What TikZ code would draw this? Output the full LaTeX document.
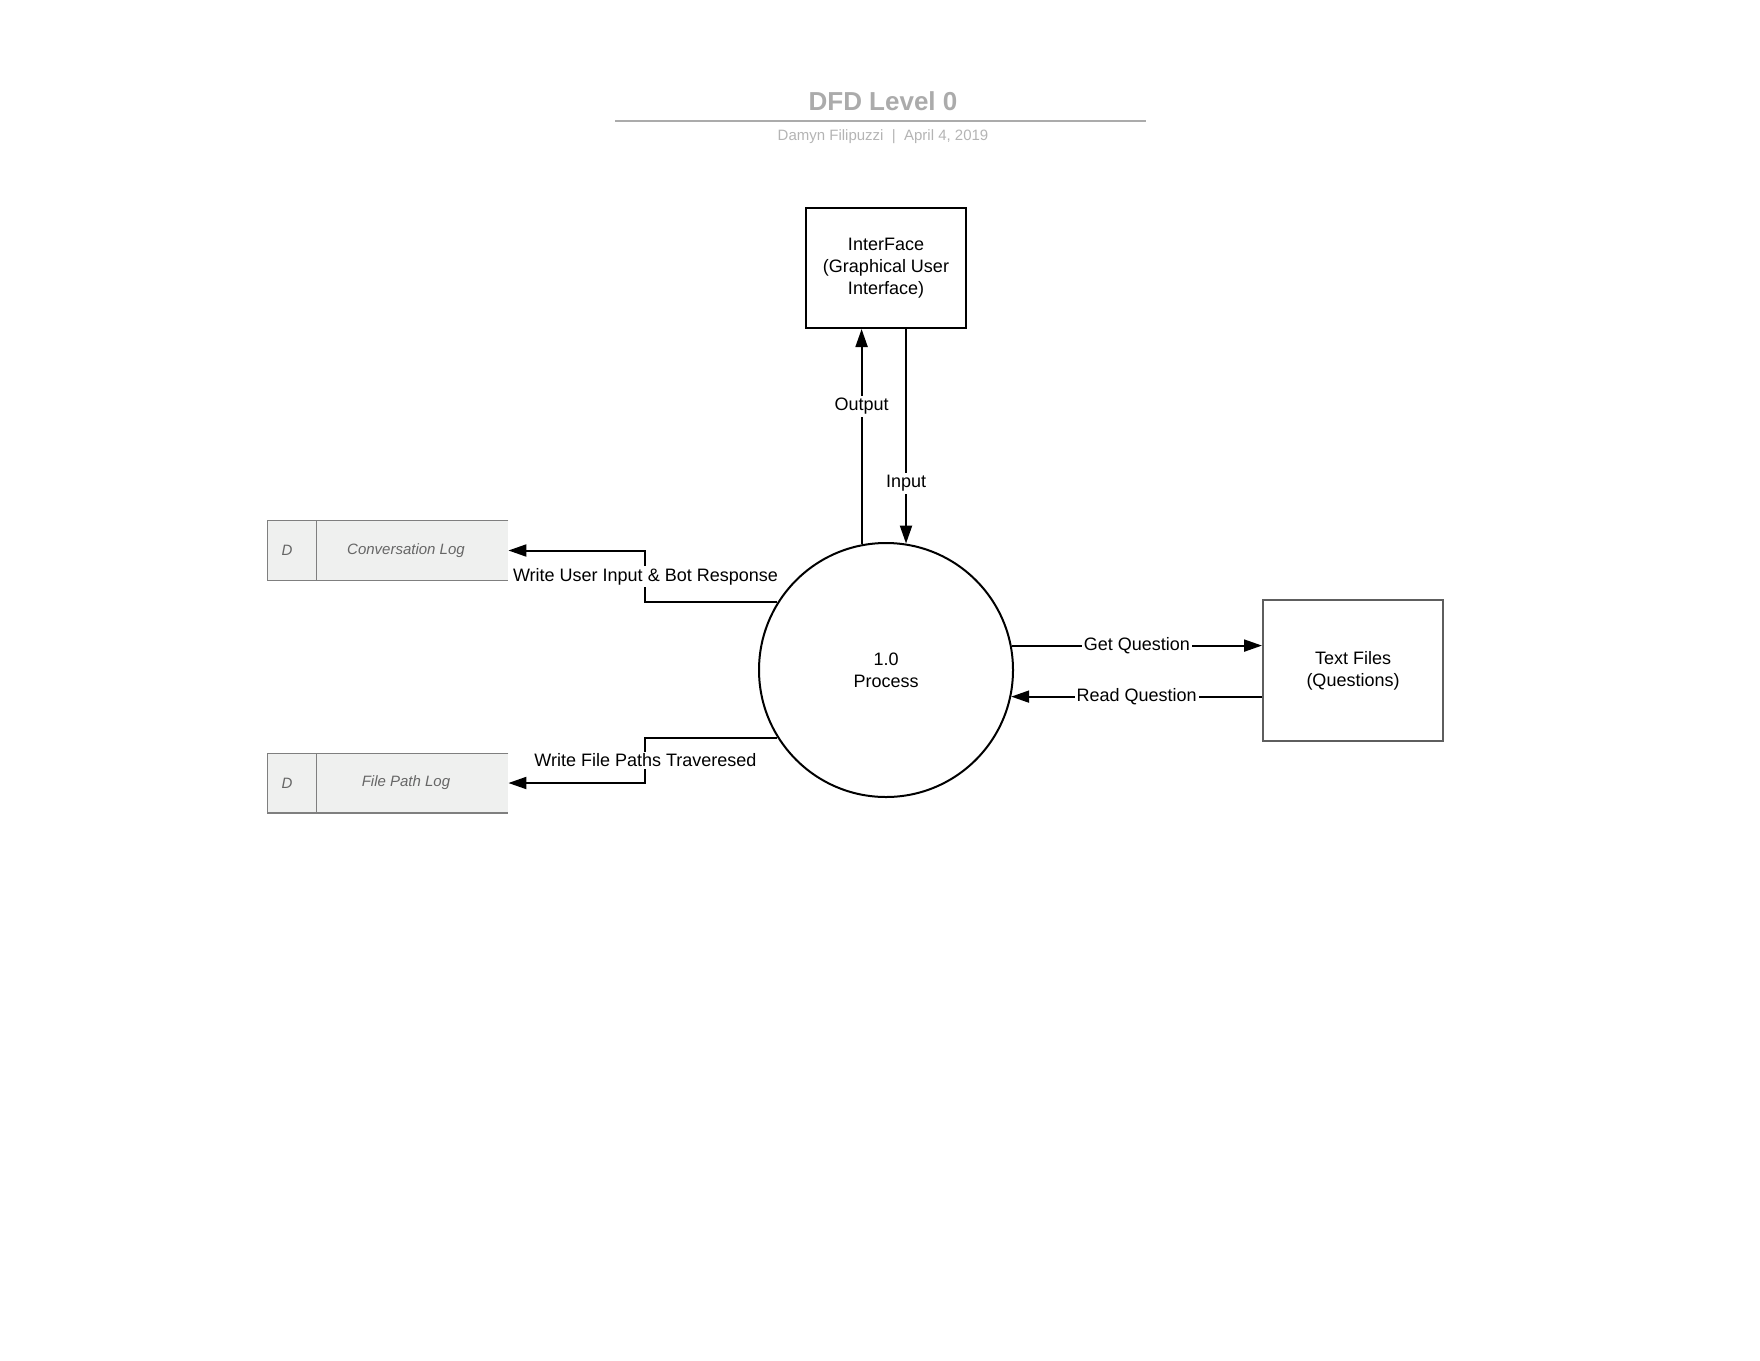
\documentclass[tikz,border=0pt]{standalone}
\usepackage{fontspec}
\setmainfont{Liberation Sans}
\usetikzlibrary{arrows.meta,positioning,calc}
\definecolor{titlegray}{HTML}{ABABAB}
\definecolor{storefill}{HTML}{EFF0EF}
\definecolor{storeedge}{HTML}{7F7F7F}
\definecolor{storeink}{HTML}{666666}
\definecolor{fileedge}{HTML}{5E5E5E}

\begin{document}
\begin{tikzpicture}[x=0.5pt,y=-0.5pt,font=\fontsize{9}{11}\selectfont,>={Triangle[length=9pt,width=6pt]},
 entity/.style={draw,line width=1pt,align=center,minimum width=80pt,minimum height=60pt},
 procbubble/.style={draw,circle,line width=1pt,align=center,minimum size=127pt},
 storebox/.style={fill=storefill,minimum width=120pt,minimum height=29.5pt,inner sep=0pt},
 storeline/.style={draw=storeedge,line width=.6pt},
 storelabel/.style={text=storeink,font=\fontsize{7.5}{9}\selectfont\itshape},
 flow/.style={line width=1pt},
 flowlabel/.style={fill=white,inner sep=1pt}]
\useasboundingbox (0,0) rectangle (1760,1360);
% heading
\node[text=titlegray,font=\fontsize{13}{15}\selectfont\bfseries] (title) at (883,101) {DFD Level 0};
\draw[titlegray,line width=1pt] (615,121) -- (1146,121);
\node[text=titlegray!90,font=\fontsize{7.5}{9}\selectfont] (byline) at (883,137) {Damyn Filipuzzi \ | \ April 4, 2019};
% entities and process
\node[entity] (iface) at (886,268) {InterFace\\(Graphical User\\Interface)};
\node[procbubble] (proc) at (886,670) {1.0\\Process};
\node[entity,draw=fileedge,minimum width=90pt,minimum height=70.5pt] (txt) at (1353,670.5) {Text Files\\(Questions)};
% data stores
\node[storebox] (conv) at (388,550.5) {};
\draw[storeline] (conv.north east) -- (conv.north west) -- (conv.south west) -- (conv.south east);
\draw[storeline] ([xshift=24.5pt]conv.north west) -- ([xshift=24.5pt]conv.south west);
\node[storelabel] (convid) at (287,550.5) {D};
\node[storelabel] (convname) at (406,550.5) {Conversation Log};
\node[storebox] (fpath) at (388,783) {};
\draw[storeline] (fpath.north east) -- (fpath.north west) -- (fpath.south west) -- (fpath.south east);
\draw[storeline] ([xshift=24.5pt]fpath.north west) -- ([xshift=24.5pt]fpath.south west);
\node[storelabel] (fpathid) at (287,783) {D};
\node[storelabel] (fpathname) at (406,783) {File Path Log};
% flows
\draw[flow,->] (proc.101) -- (proc.101 |- iface.south) node[flowlabel,pos=.64] {Output};
\draw[flow,->] (iface.south -| proc.81) -- (proc.81) node[flowlabel,pos=.72] {Input};
\draw[flow,->] (proc.11) -- (proc.11 -| txt.west) node[flowlabel,midway] {Get Question};
\draw[flow,->] (txt.west |- proc.-12) -- (proc.-12) node[flowlabel,midway] {Read Question};
\draw[flow,->] (proc.148) -- ++(-132,0) |- (conv.east) node[flowlabel,pos=.25] {Write User Input \& Bot Response};
\draw[flow,->] (proc.212) -- ++(-132,0) |- (fpath.east) node[flowlabel,pos=.25] {Write File Paths Traveresed};
\end{tikzpicture}
\end{document}
